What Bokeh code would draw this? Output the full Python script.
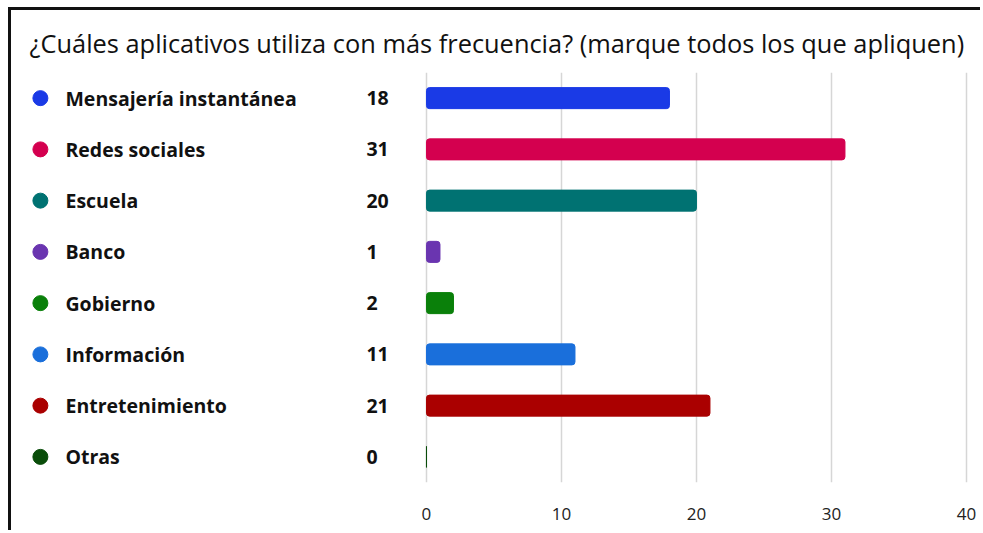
from bokeh.plotting import figure
from bokeh.models import Range1d, FactorRange, FixedTicker, ColumnDataSource
from bokeh.core.properties import value
from bokeh.transform import dodge
from bokeh.embed import file_html
from bokeh.resources import INLINE

title_text = "¿Cuáles aplicativos utiliza con más frecuencia? (marque todos los que apliquen)"
categories = ["Mensajería instantánea", "Redes sociales", "Escuela", "Banco",
              "Gobierno", "Información", "Entretenimiento", "Otras"]
counts = [18, 31, 20, 1, 2, 11, 21, 0]
colors = ["#1a3ae6", "#d4004f", "#007272", "#6a35b0", "#0a800a", "#1a6fdb", "#aa0000", "#0a4d0a"]
x_ticks = [0, 10, 20, 30, 40]

FONT = "Open Sans"

src = ColumnDataSource(dict(cat=categories, val=counts, color=colors,
                            label=[str(v) for v in counts], zero=[0] * len(counts)))

p = figure(width=972, height=523, output_backend="svg", toolbar_location=None,
           y_range=FactorRange(factors=list(reversed(categories)), range_padding=0),
           x_range=Range1d(-30.74, 40.67),
           y_axis_location=None, min_border_left=0, min_border_right=8,
           min_border_top=62, min_border_bottom=51)
p.styles = {"border-top": "3px solid #111", "border-left": "3px solid #111",
            "margin-top": "7px", "margin-left": "8px"}
p.outline_line_color = None

p.title.text = title_text
p.title.text_font = FONT
p.title.text_font_size = "25.4px"
p.title.text_font_style = "normal"
p.title.text_color = "#111111"
p.title.offset = 18
p.title.standoff = 26

p.hbar(y="cat", right="val", left=0, height=0.41, color="color", source=src,
       border_radius=3)

# legend-like labels on the left (x in data units left of zero)
p.scatter(x=dodge("zero", -28.6), y="cat", size=15, color="color", source=src)
p.text(x="zero", y="cat", text="cat", source=src, x_offset=-361,
       text_font=value(FONT), text_font_size="19.5px", text_font_style="bold",
       text_color="#111111", text_baseline="middle", text_align="left")
p.text(x="zero", y="cat", text="label", source=src, x_offset=-60,
       text_font=value(FONT), text_font_size="19.5px", text_font_style="bold",
       text_color="#111111", text_baseline="middle", text_align="left")

p.xaxis.ticker = FixedTicker(ticks=x_ticks)
p.xaxis.axis_line_color = None
p.xaxis.major_tick_line_color = None
p.xaxis.minor_tick_line_color = None
p.xaxis.major_label_text_font = FONT
p.xaxis.major_label_text_font_size = "17px"
p.xaxis.major_label_text_color = "#222222"
p.xaxis.major_label_standoff = 19

p.xgrid.grid_line_color = "#d6d6d6"
p.xgrid.grid_line_width = 1.5
p.ygrid.grid_line_color = None

open("out.html", "w").write(file_html(p, INLINE))
